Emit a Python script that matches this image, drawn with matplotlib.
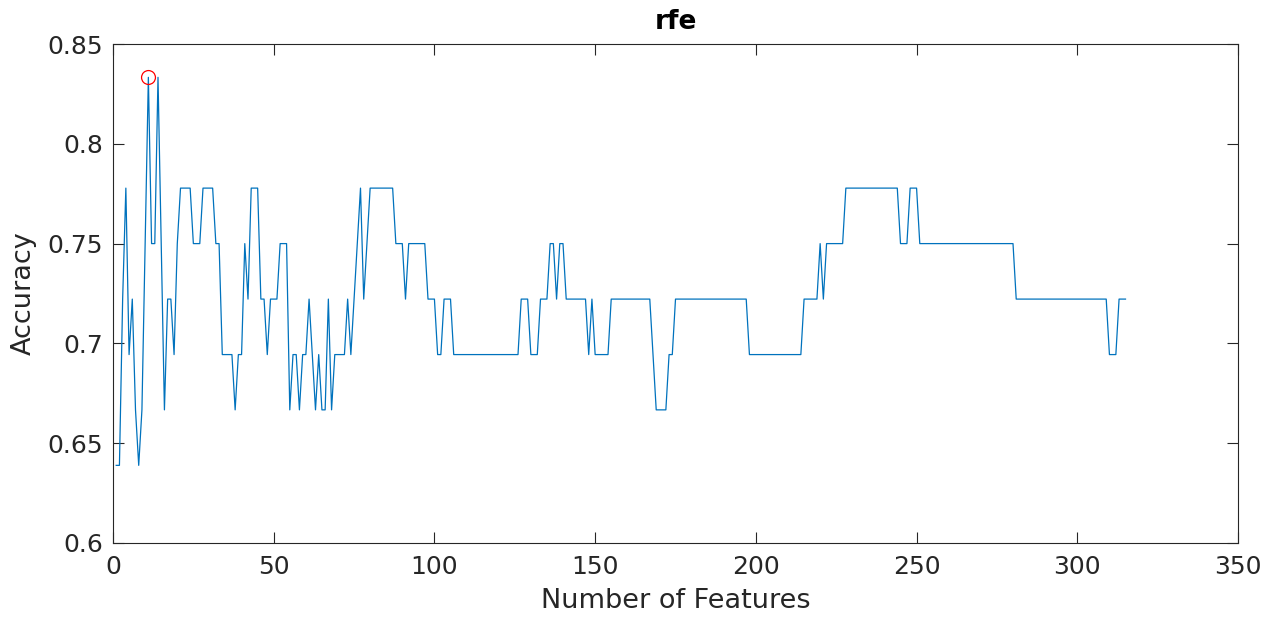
import matplotlib
matplotlib.use("Agg")
import matplotlib.pyplot as plt
import numpy as np

# Cross-validated accuracy for each number of selected features (1..315)
accuracy = [
    # 1-20
    0.6389, 0.6389, 0.7222, 0.7778, 0.6944, 0.7222, 0.6667, 0.6389, 0.6667, 0.7500,
    0.8333, 0.7500, 0.7500, 0.8333, 0.7500, 0.6667, 0.7222, 0.7222, 0.6944, 0.7500,
    # 21-40
    0.7778, 0.7778, 0.7778, 0.7778, 0.7500, 0.7500, 0.7500, 0.7778, 0.7778, 0.7778,
    0.7778, 0.7500, 0.7500, 0.6944, 0.6944, 0.6944, 0.6944, 0.6667, 0.6944, 0.6944,
    # 41-60
    0.7500, 0.7222, 0.7778, 0.7778, 0.7778, 0.7222, 0.7222, 0.6944, 0.7222, 0.7222,
    0.7222, 0.7500, 0.7500, 0.7500, 0.6667, 0.6944, 0.6944, 0.6667, 0.6944, 0.6944,
    # 61-80
    0.7222, 0.6944, 0.6667, 0.6944, 0.6667, 0.6667, 0.7222, 0.6667, 0.6944, 0.6944,
    0.6944, 0.6944, 0.7222, 0.6944, 0.7222, 0.7500, 0.7778, 0.7222, 0.7500, 0.7778,
    # 81-100
    0.7778, 0.7778, 0.7778, 0.7778, 0.7778, 0.7778, 0.7778, 0.7500, 0.7500, 0.7500,
    0.7222, 0.7500, 0.7500, 0.7500, 0.7500, 0.7500, 0.7500, 0.7222, 0.7222, 0.7222,
    # 101-120
    0.6944, 0.6944, 0.7222, 0.7222, 0.7222, 0.6944, 0.6944, 0.6944, 0.6944, 0.6944,
    0.6944, 0.6944, 0.6944, 0.6944, 0.6944, 0.6944, 0.6944, 0.6944, 0.6944, 0.6944,
    # 121-140
    0.6944, 0.6944, 0.6944, 0.6944, 0.6944, 0.6944, 0.7222, 0.7222, 0.7222, 0.6944,
    0.6944, 0.6944, 0.7222, 0.7222, 0.7222, 0.7500, 0.7500, 0.7222, 0.7500, 0.7500,
    # 141-160
    0.7222, 0.7222, 0.7222, 0.7222, 0.7222, 0.7222, 0.7222, 0.6944, 0.7222, 0.6944,
    0.6944, 0.6944, 0.6944, 0.6944, 0.7222, 0.7222, 0.7222, 0.7222, 0.7222, 0.7222,
    # 161-180
    0.7222, 0.7222, 0.7222, 0.7222, 0.7222, 0.7222, 0.7222, 0.6944, 0.6667, 0.6667,
    0.6667, 0.6667, 0.6944, 0.6944, 0.7222, 0.7222, 0.7222, 0.7222, 0.7222, 0.7222,
    # 181-200
    0.7222, 0.7222, 0.7222, 0.7222, 0.7222, 0.7222, 0.7222, 0.7222, 0.7222, 0.7222,
    0.7222, 0.7222, 0.7222, 0.7222, 0.7222, 0.7222, 0.7222, 0.6944, 0.6944, 0.6944,
    # 201-220
    0.6944, 0.6944, 0.6944, 0.6944, 0.6944, 0.6944, 0.6944, 0.6944, 0.6944, 0.6944,
    0.6944, 0.6944, 0.6944, 0.6944, 0.7222, 0.7222, 0.7222, 0.7222, 0.7222, 0.7500,
    # 221-240
    0.7222, 0.7500, 0.7500, 0.7500, 0.7500, 0.7500, 0.7500, 0.7778, 0.7778, 0.7778,
    0.7778, 0.7778, 0.7778, 0.7778, 0.7778, 0.7778, 0.7778, 0.7778, 0.7778, 0.7778,
    # 241-260
    0.7778, 0.7778, 0.7778, 0.7778, 0.7500, 0.7500, 0.7500, 0.7778, 0.7778, 0.7778,
    0.7500, 0.7500, 0.7500, 0.7500, 0.7500, 0.7500, 0.7500, 0.7500, 0.7500, 0.7500,
    # 261-280
    0.7500, 0.7500, 0.7500, 0.7500, 0.7500, 0.7500, 0.7500, 0.7500, 0.7500, 0.7500,
    0.7500, 0.7500, 0.7500, 0.7500, 0.7500, 0.7500, 0.7500, 0.7500, 0.7500, 0.7500,
    # 281-300
    0.7222, 0.7222, 0.7222, 0.7222, 0.7222, 0.7222, 0.7222, 0.7222, 0.7222, 0.7222,
    0.7222, 0.7222, 0.7222, 0.7222, 0.7222, 0.7222, 0.7222, 0.7222, 0.7222, 0.7222,
    # 301-315
    0.7222, 0.7222, 0.7222, 0.7222, 0.7222, 0.7222, 0.7222, 0.7222, 0.7222, 0.6944,
    0.6944, 0.6944, 0.7222, 0.7222, 0.7222,
]
n_features = list(range(1, len(accuracy) + 1))

x_ticks = [0, 50, 100, 150, 200, 250, 300, 350]
y_ticks = [0.6, 0.65, 0.7, 0.75, 0.8, 0.85]
x_tick_labels = ["0", "50", "100", "150", "200", "250", "300", "350"]
y_tick_labels = ["0.6", "0.65", "0.7", "0.75", "0.8", "0.85"]

title_text = "rfe"
x_label = "Number of Features"
y_label = "Accuracy"

LINE_BLUE = "#0072BD"
AXIS_GRAY = "#262626"

plt.rcParams["font.family"] = ["DejaVu Sans"]

fig = plt.figure(figsize=(12.78, 6.18), dpi=100)
ax = fig.add_axes([113 / 1278, 75 / 618, 1125 / 1278, 499 / 618])

ax.plot(n_features, accuracy, color=LINE_BLUE, linewidth=0.9)

# best subset size marked with an open red circle
best = int(np.argmax(accuracy))
ax.plot(n_features[best], accuracy[best], "o", markersize=10,
        markerfacecolor="none", markeredgecolor="red", markeredgewidth=0.9)

ax.set_xlim(0, 350)
ax.set_ylim(0.6, 0.85)
ax.set_xticks(x_ticks)
ax.set_xticklabels(x_tick_labels)
ax.set_yticks(y_ticks)
ax.set_yticklabels(y_tick_labels)

ax.tick_params(direction="in", length=8, width=0.8, colors=AXIS_GRAY,
               labelsize=18, top=True, right=True)
ax.tick_params(axis="x", pad=9)
ax.tick_params(axis="y", pad=7)
for side in ax.spines.values():
    side.set_color(AXIS_GRAY)
    side.set_linewidth(0.8)

ax.set_title(title_text, fontsize=19, fontweight="bold", color="black", pad=11)
ax.set_xlabel(x_label, fontsize=19.5, color=AXIS_GRAY, labelpad=6)
ax.set_ylabel(y_label, fontsize=19.5, color=AXIS_GRAY, labelpad=8)

fig.savefig("out.png", dpi=100, facecolor="white")
